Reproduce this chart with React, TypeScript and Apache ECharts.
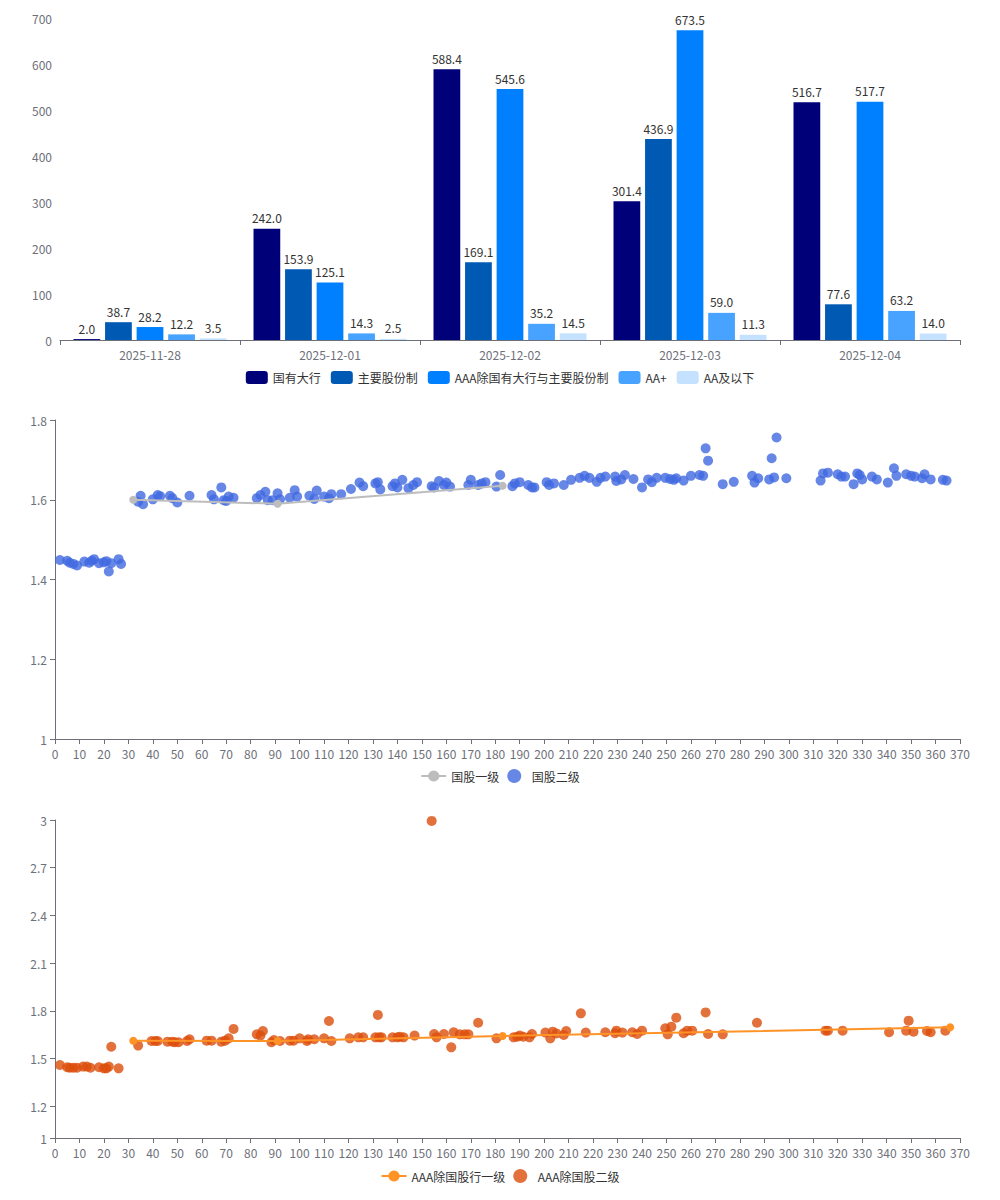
import React, { useEffect, useRef } from "react";
import * as echarts from "echarts";

// ---- Bar chart data ----
const barDates = ["2025-11-28", "2025-12-01", "2025-12-02", "2025-12-03", "2025-12-04"];
const barNames = ["国有大行", "主要股份制", "AAA除国有大行与主要股份制", "AA+", "AA及以下"];
const barColors = ["#000078", "#0059B3", "#0080FF", "#47A3FF", "#C4E1FF"];
const bigBanks = [2.0, 242.0, 588.4, 301.4, 516.7];
const jointStock = [38.7, 153.9, 169.1, 436.9, 77.6];
const aaaOther = [28.2, 125.1, 545.6, 673.5, 517.7];
const aaPlus = [12.2, 14.3, 35.2, 59.0, 63.2];
const aaBelow = [3.5, 2.5, 14.5, 11.3, 14.0];
const barSeriesValues = [bigBanks, jointStock, aaaOther, aaPlus, aaBelow];

// ---- Scatter chart 2 data (国股) ----
const guoguLevel1 = [[32, 1.6], [91, 1.59], [183, 1.635]];
const guoguLevel2 = [
  [2, 1.449], [5, 1.447], [6, 1.442], [7.5, 1.439], [9, 1.435], [12, 1.445], [14, 1.442], [15, 1.447],
  [16, 1.451], [18, 1.441], [20, 1.443], [21, 1.446], [22, 1.42], [23, 1.441], [26, 1.451], [27, 1.439],
  [35, 1.61], [36, 1.589], [34, 1.595], [40, 1.601], [42, 1.612], [43, 1.609], [47, 1.61], [48, 1.604],
  [50, 1.593], [55, 1.61], [64, 1.612], [65, 1.601], [68, 1.631], [69, 1.599], [70, 1.597], [71, 1.608],
  [73, 1.605], [82.5, 1.604], [84, 1.612], [86, 1.62], [87, 1.599], [89, 1.599], [91, 1.616], [92, 1.601],
  [96, 1.605], [98, 1.624], [99, 1.608], [104, 1.61], [106, 1.602], [107, 1.623], [110, 1.608], [112, 1.604],
  [113, 1.614], [117, 1.614], [121, 1.627], [124.5, 1.643], [126, 1.634], [131, 1.641], [132, 1.644],
  [133, 1.626], [138, 1.634], [139, 1.641], [140, 1.631], [142, 1.65], [144.5, 1.629], [146.5, 1.637],
  [148, 1.644], [154, 1.634], [155, 1.631], [157, 1.647], [159, 1.637], [160, 1.643], [161.5, 1.633],
  [169, 1.637], [170, 1.65], [173, 1.637], [174.5, 1.641], [176, 1.644], [180.5, 1.633], [182, 1.662],
  [187, 1.634], [188, 1.641], [190, 1.644], [193.5, 1.637], [195, 1.631], [196, 1.631], [201, 1.644],
  [202, 1.637], [204, 1.641], [208, 1.637], [211, 1.65], [214.5, 1.655], [216.5, 1.66], [218.5, 1.655],
  [221.5, 1.645], [223, 1.655], [225, 1.658], [229, 1.658], [229.5, 1.647], [231.5, 1.651], [233, 1.662],
  [236.5, 1.652], [240, 1.631], [242.5, 1.651], [244, 1.644], [246, 1.655], [249.5, 1.655], [251.5, 1.652],
  [253, 1.65], [254, 1.654], [257, 1.648], [260, 1.66], [263.5, 1.662], [265, 1.66], [266, 1.729],
  [267, 1.698], [273, 1.639], [277.5, 1.645], [285, 1.66], [286, 1.643], [287.5, 1.654], [292, 1.651],
  [293, 1.704], [294, 1.656], [295, 1.756], [299, 1.654], [313, 1.648], [314, 1.666], [316, 1.668],
  [320, 1.664], [321.5, 1.658], [323, 1.658], [326.5, 1.639], [328, 1.666], [329, 1.662], [330, 1.651],
  [334, 1.658], [336, 1.651], [340.5, 1.643], [343, 1.679], [344, 1.66], [348, 1.664], [350, 1.66],
  [351.5, 1.658], [354.5, 1.654], [355.5, 1.664], [358, 1.651], [363, 1.65], [364.5, 1.648],
];

// ---- Scatter chart 3 data (AAA除国股) ----
const aaaLevel1 = [[32, 1.612], [91, 1.61], [183, 1.642], [366, 1.696]];
const aaaLevel2 = [
  [2, 1.459], [5, 1.445], [6, 1.442], [7.5, 1.442], [9, 1.442], [11.5, 1.449], [13, 1.449], [14.5, 1.442],
  [18, 1.445], [20, 1.438], [21, 1.438], [22, 1.449], [23, 1.574], [26, 1.438],
  [34, 1.581], [39.5, 1.61], [41, 1.61], [42, 1.61], [46, 1.606], [48, 1.606], [49, 1.602], [50.5, 1.602],
  [54, 1.61], [55, 1.621], [62, 1.612], [64, 1.612], [68, 1.606], [69.5, 1.612], [71, 1.627], [73, 1.686],
  [82.5, 1.652], [84, 1.644], [85, 1.673], [88.5, 1.602], [89.5, 1.616], [92, 1.61], [96, 1.612],
  [97.5, 1.612], [100, 1.627], [103, 1.61], [103.5, 1.621], [106, 1.621], [110, 1.627], [112, 1.736],
  [113, 1.61], [120.5, 1.627], [124, 1.633], [126, 1.633], [131, 1.633], [132, 1.774], [132.5, 1.633],
  [133.5, 1.633], [138, 1.633], [140, 1.633], [141, 1.637], [142.5, 1.633], [147, 1.644], [154, 2.994],
  [155, 1.654], [156, 1.633], [159, 1.654], [162, 1.57], [163, 1.665], [165.5, 1.652], [167.5, 1.652],
  [169, 1.652], [173, 1.725], [180.5, 1.627], [187.5, 1.633], [189, 1.637], [190, 1.644], [191.5, 1.637],
  [194, 1.633], [195, 1.654], [200.5, 1.663], [202.5, 1.627], [203.5, 1.669], [205, 1.658], [208, 1.648],
  [209, 1.673], [215, 1.784], [217, 1.663], [225, 1.665], [229, 1.659], [229.5, 1.675], [232, 1.663],
  [236, 1.665], [238, 1.654], [240, 1.675], [249.5, 1.69], [250.5, 1.652], [252, 1.7], [254, 1.757],
  [257, 1.659], [258.5, 1.675], [260.5, 1.675], [266, 1.79], [267, 1.654], [273, 1.652], [287, 1.725],
  [315, 1.675], [316, 1.675], [322, 1.675], [341, 1.665], [348, 1.675], [349, 1.738], [351, 1.669],
  [356.5, 1.673], [358, 1.665], [364, 1.675],
];

const axisGray = "#6E7079";

function valueXAxis(gridIndex: number) {
  return {
    type: "value",
    gridIndex,
    min: 0,
    max: 370,
    interval: 10,
    axisLine: { show: true, lineStyle: { color: axisGray } },
    axisTick: { show: true },
    axisLabel: { color: axisGray, fontSize: 12 },
    splitLine: { show: false },
  };
}

export default function App() {
  const ref = useRef<HTMLDivElement>(null);
  useEffect(() => {
    if (!ref.current) return;
    const chart = echarts.init(ref.current, undefined, { renderer: "svg" });
    const barSeries = barNames.map((name, i) => ({
      name,
      type: "bar",
      xAxisIndex: 0,
      yAxisIndex: 0,
      data: barSeriesValues[i],
      barGap: "18%",
      barCategoryGap: "15%",
      itemStyle: { color: barColors[i] },
      label: {
        show: true,
        position: "top",
        distance: 5,
        color: "#333",
        fontSize: 12,
        formatter: (p: any) => Number(p.value).toFixed(1),
      },
    }));
    chart.setOption({
      animation: false,
      textStyle: { fontFamily: '"Microsoft YaHei", "Noto Sans CJK SC", sans-serif' },
      grid: [
        { left: 52, right: 32, top: 10, height: 322 },
        { left: 47, right: 32, top: 412, height: 319 },
        { left: 47, right: 32, top: 812, height: 318 },
      ],
      legend: [
        {
          data: barNames,
          top: 358,
          left: "center",
          itemWidth: 22,
          itemHeight: 13,
          itemGap: 10,
          textStyle: { color: "#333", fontSize: 12 },
        },
        {
          data: ["国股一级", "国股二级"],
          top: 756,
          left: "center",
          itemWidth: 25,
          itemHeight: 14,
          textStyle: { color: "#333", fontSize: 12 },
        },
        {
          data: ["AAA除国股行一级", "AAA除国股二级"],
          top: 1156,
          left: "center",
          itemWidth: 25,
          itemHeight: 14,
          textStyle: { color: "#333", fontSize: 12 },
        },
      ],
      xAxis: [
        {
          type: "category",
          gridIndex: 0,
          data: barDates,
          axisLine: { show: true, lineStyle: { color: axisGray } },
          axisTick: { show: true },
          axisLabel: { color: axisGray, fontSize: 12 },
        },
        valueXAxis(1),
        valueXAxis(2),
      ],
      yAxis: [
        {
          type: "value",
          gridIndex: 0,
          min: 0,
          max: 700,
          interval: 100,
          axisLine: { show: false },
          axisTick: { show: false },
          splitLine: { show: false },
          axisLabel: { color: axisGray, fontSize: 12 },
        },
        {
          type: "value",
          gridIndex: 1,
          min: 1,
          max: 1.8,
          interval: 0.2,
          axisLine: { show: true, lineStyle: { color: axisGray } },
          axisTick: { show: true },
          splitLine: { show: false },
          axisLabel: { color: axisGray, fontSize: 12 },
        },
        {
          type: "value",
          gridIndex: 2,
          min: 1,
          max: 3,
          splitNumber: 6,
          axisLine: { show: true, lineStyle: { color: axisGray } },
          axisTick: { show: true },
          splitLine: { show: false },
          axisLabel: { color: axisGray, fontSize: 12 },
        },
      ],
      series: [
        ...barSeries,
        {
          name: "国股一级",
          type: "line",
          xAxisIndex: 1,
          yAxisIndex: 1,
          data: guoguLevel1,
          symbol: "circle",
          symbolSize: 8,
          itemStyle: { color: "#BDBDBD" },
          lineStyle: { color: "#BDBDBD", width: 2 },
        },
        {
          name: "国股二级",
          type: "scatter",
          xAxisIndex: 1,
          yAxisIndex: 1,
          data: guoguLevel2,
          symbolSize: 10,
          itemStyle: { color: "#4169E1", opacity: 0.8 },
        },
        {
          name: "AAA除国股行一级",
          type: "line",
          xAxisIndex: 2,
          yAxisIndex: 2,
          data: aaaLevel1,
          symbol: "circle",
          symbolSize: 8,
          itemStyle: { color: "#FF9326" },
          lineStyle: { color: "#FF9326", width: 2 },
        },
        {
          name: "AAA除国股二级",
          type: "scatter",
          xAxisIndex: 2,
          yAxisIndex: 2,
          data: aaaLevel2,
          symbolSize: 10,
          itemStyle: { color: "#DC4E0B", opacity: 0.8 },
        },
      ],
    });
    return () => chart.dispose();
  }, []);
  return <div ref={ref} style={{ width: "100%", height: 1184 }} />;
}
